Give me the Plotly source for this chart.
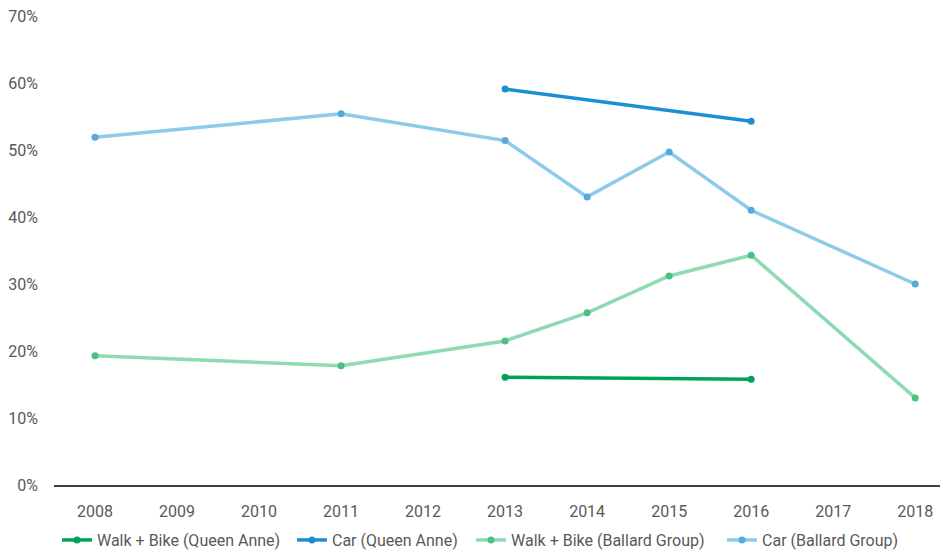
import plotly.graph_objects as go

years = [2008, 2009, 2010, 2011, 2012, 2013, 2014, 2015, 2016, 2017, 2018]

walk_qa_years = [2013, 2016]
walk_qa = [0.161, 0.158]

car_qa_years = [2013, 2016]
car_qa = [0.591, 0.543]

walk_bg_years = [2008, 2011, 2013, 2014, 2015, 2016, 2018]
walk_bg = [0.193, 0.178, 0.215, 0.257, 0.312, 0.343, 0.130]

car_bg_years = [2008, 2011, 2013, 2014, 2015, 2016, 2018]
car_bg = [0.519, 0.554, 0.514, 0.430, 0.497, 0.410, 0.300]

y_ticks = [0, 0.1, 0.2, 0.3, 0.4, 0.5, 0.6, 0.7]

series = [
    ("Walk + Bike (Queen Anne)", walk_qa_years, walk_qa, "#00a356", "#00a356"),
    ("Car (Queen Anne)", car_qa_years, car_qa, "#1b8fd2", "#1b8fd2"),
    ("Walk + Bike (Ballard Group)", walk_bg_years, walk_bg, "#8fdab4", "#4dbf85"),
    ("Car (Ballard Group)", car_bg_years, car_bg, "#8ecbea", "#55a9db"),
]
legend_ids = ["legend", "legend2", "legend3", "legend4"]
legend_x = [0.0521, 0.3021, 0.4926, 0.7596]

fig = go.Figure()
for (name, xs, ys, lc, mc), lid in zip(series, legend_ids):
    fig.add_trace(go.Scatter(
        x=xs, y=ys, name=name, mode="lines+markers",
        line=dict(color=lc, width=3.5),
        marker=dict(color=mc, size=7),
        legend=lid,
    ))

legend_style = dict(orientation="h", xref="container", xanchor="left",
                    yref="container", y=0.022, yanchor="middle",
                    font=dict(size=16, color="#595959"), itemwidth=30,
                    bgcolor="rgba(0,0,0,0)")

# page body has an 8px margin, so the figure is 940x544 placed at (8, 8)
fig.update_layout(
    width=940, height=544,
    margin=dict(l=46, r=0, t=8, b=67, autoexpand=False),
    paper_bgcolor="white", plot_bgcolor="white",
    font=dict(family="Roboto, sans-serif", size=16, color="#595959"),
    showlegend=True,
    xaxis=dict(range=[2007.5, 2018.4], tickvals=years, ticktext=[str(y) for y in years],
               showgrid=False, zeroline=False, showline=True, linecolor="#404040",
               linewidth=1.5, ticks="", ticklabelstandoff=11, fixedrange=True,
               automargin=False),
    yaxis=dict(range=[0, 0.7], tickvals=y_ticks, tickformat=".0%",
               showgrid=False, zeroline=False, showline=False, ticks="",
               ticklabelstandoff=15, fixedrange=True, automargin=False,
               ticklabeloverflow="allow"),
)
for lid, lx in zip(legend_ids, legend_x):
    fig.update_layout({lid: dict(legend_style, x=lx)})

fig.write_html("out.html")
